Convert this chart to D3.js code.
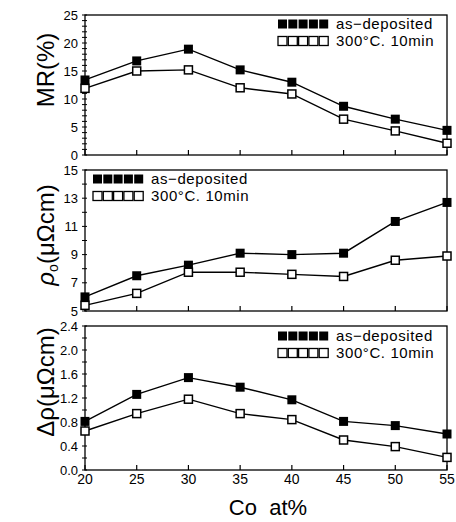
<!DOCTYPE html>
<html>
<head>
<meta charset="utf-8">
<script src="https://cdn.jsdelivr.net/npm/d3@7"></script>
<style>
    body { margin: 0; background: #fff; }
    svg { display: block; }
    text { font-family: "Liberation Sans", Arial, sans-serif; fill: #000; }
</style>
</head>
<body>
<div id="chart"></div>
<script>
// Co content (at%)
const coAt = [20, 25, 30, 35, 40, 45, 50, 55];

// MR (%)
const mrAsDep = [13.4, 16.8, 18.9, 15.2, 13.0, 8.7, 6.4, 4.4];
const mrAnneal = [11.9, 15.0, 15.2, 12.0, 10.9, 6.4, 4.3, 2.1];

// rho0 (uOhm cm)
const rhoAsDep = [6.0, 7.5, 8.25, 9.1, 9.0, 9.1, 11.35, 12.7];
const rhoAnneal = [5.4, 6.25, 7.75, 7.75, 7.6, 7.45, 8.6, 8.9];

// delta rho (uOhm cm)
const drhoAsDep = [0.81, 1.26, 1.54, 1.38, 1.17, 0.81, 0.74, 0.6];
const drhoAnneal = [0.65, 0.94, 1.18, 0.94, 0.84, 0.5, 0.39, 0.21];

const xTicks = [20, 25, 30, 35, 40, 45, 50, 55];
const legendLabels = ["as\u2212deposited", "300\u00B0C. 10min"];

const width = 456, height = 522;
const svg = d3.select('#chart').append('svg')
    .attr('width', width)
    .attr('height', height);

const xScale = d3.scaleLinear().domain([20, 55]).range([85, 447]);

const panels = [
    {top: 15, bottom: 155, domain: [0, 25], major: d3.range(0, 26, 5), minor: d3.range(0, 26, 1),
     fmt: d3.format('d'), a: mrAsDep, b: mrAnneal, legend: 'right', legendY: 24},
    {top: 170, bottom: 311, domain: [5, 15], major: d3.range(5, 16, 2), minor: d3.range(5, 16, 1),
     fmt: d3.format('d'), a: rhoAsDep, b: rhoAnneal, legend: 'left', legendY: 179},
    {top: 326, bottom: 470, domain: [0, 2.4], major: d3.range(0, 2.41, 0.4), minor: d3.range(0, 2.41, 0.2),
     fmt: d3.format('.1f'), a: drhoAsDep, b: drhoAnneal, legend: 'right', legendY: 336}
];

panels.forEach(p => {
    const y = d3.scaleLinear().domain(p.domain).range([p.bottom, p.top]);
    const g = svg.append('g');

    // frame
    g.append('rect')
        .attr('x', xScale(20)).attr('y', p.top)
        .attr('width', xScale(55) - xScale(20)).attr('height', p.bottom - p.top)
        .attr('fill', 'none').attr('stroke', '#000').attr('stroke-width', 1.3);

    // y ticks
    g.selectAll('.ymin').data(p.minor).join('line')
        .attr('x1', xScale(20) - 3).attr('x2', xScale(20) + 2)
        .attr('y1', d => y(d)).attr('y2', d => y(d))
        .attr('stroke', '#000').attr('stroke-width', 1);
    g.selectAll('.ylab').data(p.major).join('text')
        .attr('x', 78).attr('y', d => y(d))
        .attr('dy', '0.35em')
        .attr('text-anchor', 'end')
        .style('font-size', '13px')
        .text(d => p.fmt(d));

    // x ticks (inward)
    g.selectAll('.xt').data(xTicks).join('line')
        .attr('x1', d => xScale(d)).attr('x2', d => xScale(d))
        .attr('y1', p.bottom).attr('y2', p.bottom - 5)
        .attr('stroke', '#000').attr('stroke-width', 1.2);

    const line = d3.line().x((d, i) => xScale(coAt[i])).y(d => y(d));
    [p.a, p.b].forEach(series => {
        g.append('path').datum(series)
            .attr('d', line)
            .attr('fill', 'none').attr('stroke', '#000').attr('stroke-width', 1.4);
    });

    // markers
    g.selectAll('.fill').data(p.a).join('rect')
        .attr('x', (d, i) => xScale(coAt[i]) - 4.5).attr('y', d => y(d) - 4.5)
        .attr('width', 9).attr('height', 9).attr('fill', '#000');
    g.selectAll('.open').data(p.b).join('rect')
        .attr('x', (d, i) => xScale(coAt[i]) - 4).attr('y', d => y(d) - 4)
        .attr('width', 8).attr('height', 8)
        .attr('fill', '#fff').attr('stroke', '#000').attr('stroke-width', 1.5);

    // legend
    const lx = p.legend === 'right' ? 278 : 93;
    legendLabels.forEach((lab, li) => {
        const ly = p.legendY + li * 17;
        for (let k = 0; k < 5; k++) {
            const r = g.append('rect')
                .attr('x', lx + k * 10.3).attr('y', ly - 4.5)
                .attr('width', 9).attr('height', 9);
            if (li === 0) r.attr('fill', '#000');
            else r.attr('fill', '#fff').attr('stroke', '#000').attr('stroke-width', 1.3);
        }
        g.append('text')
            .attr('x', lx + 58).attr('y', ly)
            .attr('dy', '0.35em')
            .style('font-size', '15px')
            .style('letter-spacing', '0.6px')
            .text(lab);
    });
});

// x tick labels
svg.selectAll('.xlab').data(xTicks).join('text')
    .attr('x', d => xScale(d)).attr('y', 484)
    .attr('text-anchor', 'middle')
    .style('font-size', '14px')
    .text(d => d);

svg.append('text')
    .attr('x', 268).attr('y', 515)
    .attr('text-anchor', 'middle')
    .style('font-size', '22px')
    .attr('xml:space', 'preserve')
    .text('Co  at%');

// y labels
svg.append('text')
    .attr('transform', 'translate(54,70) rotate(-90)')
    .attr('text-anchor', 'middle')
    .style('font-size', '24px')
    .text('MR(%)');

const yLab2 = svg.append('text')
    .attr('transform', 'translate(54,235) rotate(-90)')
    .attr('text-anchor', 'middle')
    .style('font-size', '24px');
yLab2.append('tspan').style('font-style', 'italic').text('\u03C1');
yLab2.append('tspan').attr('dy', 4).style('font-size', '14px').text('o');
yLab2.append('tspan').attr('dy', -4).text('(\u03BC\u03A9cm)');

svg.append('text')
    .attr('transform', 'translate(54,382) rotate(-90)')
    .attr('text-anchor', 'middle')
    .style('font-size', '24px')
    .text('\u0394\u03C1(\u03BC\u03A9cm)');
</script>
</body>
</html>
